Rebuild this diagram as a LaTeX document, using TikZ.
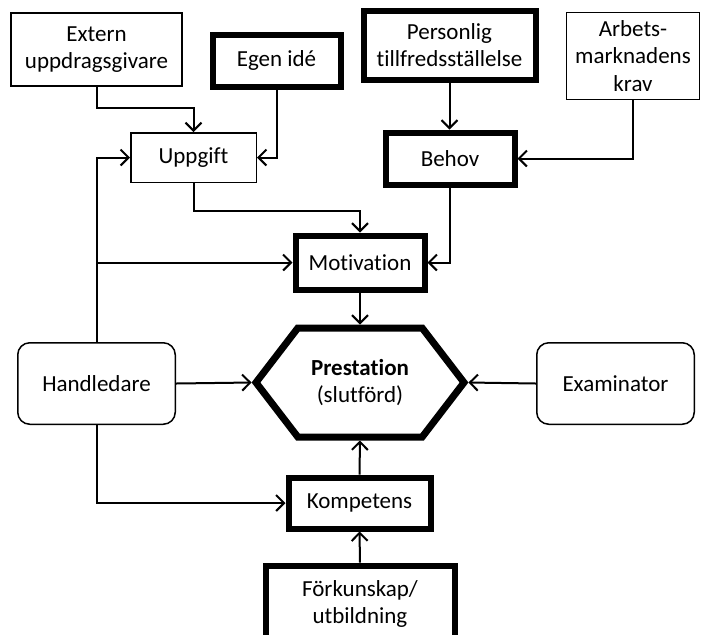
\documentclass[tikz,border=0pt]{standalone}
\usepackage{fontspec}
\setmainfont{Carlito}[Ligatures=NoCommon]
\usetikzlibrary{shapes.symbols,arrows.meta}
\tikzset{box/.style={draw,line width=0.75pt,align=center,inner sep=0pt,font=\fontsize{11.5}{13.8}\selectfont},
         fatbox/.style={box,line width=3pt},
         rbox/.style={box,rounded corners=6pt},
         hex/.style={box,shape=signal,signal to=east and west,signal pointer angle=105,line width=3.5pt}}

\begin{document}
\begin{tikzpicture}[x=0.5pt,y=-0.5pt,>={Straight Barb[length=4pt,width=8pt]},line width=1pt]
        \useasboundingbox (0,0) rectangle (702,634);
        \clip (0,0) rectangle (702,634);
		\node[box,minimum width=85.5pt,minimum height=36.5pt] (ext) at (96.5,49.5) {Extern\\uppdragsgivare};
        \node[fatbox,minimum width=64pt,minimum height=26pt] (egen) at (276.5,60.5) {Egen idé};
        \node[fatbox,minimum width=86pt,minimum height=34.5pt] (pers) at (449.5,45) {Personlig\\tillfredsställelse};
        \node[box,minimum width=66.5pt,minimum height=43.5pt] (arb) at (633,56) {Arbets-\\marknadens\\krav};
        \node[box,minimum width=62.75pt,minimum height=24.75pt] (upp) at (193.5,157.5) {Uppgift};
        \node[fatbox,minimum width=64.5pt,minimum height=26pt] (beh) at (450,158.5) {Behov};
        \node[fatbox,minimum width=64.5pt,minimum height=27pt] (mot) at (360,262.5) {Motivation};
        \node[hex,minimum width=104pt,minimum height=54.5pt] (prest) at (360,382.5) {\textbf{Prestation}\\(slutförd)};
        \node[rbox,minimum width=78.75pt,minimum height=40.75pt] (hand) at (96.5,383.5) {Handledare};
        \node[rbox,minimum width=78.75pt,minimum height=40.75pt] (exam) at (615.5,383.5) {Examinator};
        \node[fatbox,minimum width=71pt,minimum height=25.5pt] (komp) at (359.5,503) {Kompetens};
        \node[fatbox,minimum width=94.5pt,minimum height=38.5pt] (fork) at (360,604) {Förkunskap/\\utbildning};

        \draw [->] (ext.south) -- ++(0,21) -| (upp.north);
		\draw [->] (egen.south) |- (upp.east);
		\draw [->] (hand.north) |- (upp.west);
		\draw [->] (hand.north |- mot.west) -- (mot.west);
		\draw [->] (upp.south) -- ++(0,28) -| (mot.north);
		\draw [->] (pers.south) -- (pers.south |- beh.north);
		\draw [->] (arb.south) |- (beh.east);
		\draw [->] (beh.south) |- (mot.east);
		\draw [->] (mot.south) -- (prest.north);
		\draw [->] (hand.east) -- (prest.west);
		\draw [->] (exam.west) -- (prest.east);
		\draw [->] (hand.south) |- (komp.west);
		\draw [->] (komp.north) -- (prest.south);
		\draw [->] (fork.north) -- (komp.south);
    \end{tikzpicture}
\end{document}
